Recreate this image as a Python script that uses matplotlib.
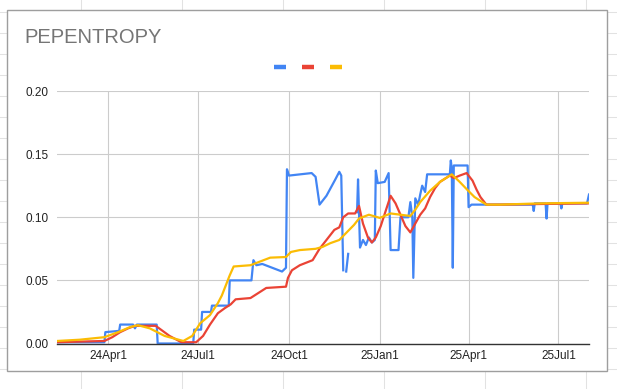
import numpy as np
import pandas as pd
import matplotlib
matplotlib.use("Agg")
import matplotlib.pyplot as plt
from matplotlib.lines import Line2D
from matplotlib.patches import Rectangle

plt.rcParams['font.family'] = ['Liberation Sans', 'DejaVu Sans']

title = "PEPENTROPY"
series_colors = ["#4285F4", "#EA4335", "#FBBC04"]
y_ticks = [0.00, 0.05, 0.10, 0.15, 0.20]
x_tick_dates = ["2024-04-01", "2024-07-01", "2024-10-01", "2025-01-01", "2025-04-01", "2025-07-01"]
x_tick_labels = ["24Apr1", "24Jul1", "24Oct1", "25Jan1", "25Apr1", "25Jul1"]

nan = np.nan
blue_dates = ["2024-02-09", "2024-03-28", "2024-03-29", "2024-04-12", "2024-04-13", "2024-04-26",
              "2024-04-28", "2024-04-30", "2024-05-20", "2024-05-21", "2024-06-26", "2024-06-27",
              "2024-07-04", "2024-07-05", "2024-07-14", "2024-07-15", "2024-08-01", "2024-08-02",
              "2024-08-24", "2024-08-26", "2024-08-29", "2024-09-04", "2024-09-14", "2024-09-24",
              "2024-09-28", "2024-09-29", "2024-10-01", "2024-10-24", "2024-10-28", "2024-11-01",
              "2024-11-08", "2024-11-17", "2024-11-21", "2024-11-23", "2024-11-25", "2024-11-26",
              "2024-11-28", "2024-11-30", "2024-12-01", "2024-12-09", "2024-12-10", "2024-12-12",
              "2024-12-15", "2024-12-18", "2024-12-21", "2024-12-24", "2024-12-27", "2024-12-28",
              "2024-12-30", "2025-01-06", "2025-01-10", "2025-01-12", "2025-01-20", "2025-01-22",
              "2025-01-30", "2025-02-01", "2025-02-03", "2025-02-04", "2025-02-06", "2025-02-09",
              "2025-02-11", "2025-02-13", "2025-02-16", "2025-02-18", "2025-03-13", "2025-03-14",
              "2025-03-15", "2025-03-16", "2025-03-17", "2025-03-31", "2025-04-01", "2025-04-04",
              "2025-06-05", "2025-06-06", "2025-06-07", "2025-06-18", "2025-06-19", "2025-06-20",
              "2025-07-03", "2025-07-04", "2025-07-05", "2025-07-30", "2025-08-01"]
blue_values = [0.001, 0.001, 0.009, 0.010, 0.015, 0.015,
               0.012, 0.015, 0.015, 0.000, 0.000, 0.011,
               0.011, 0.025, 0.025, 0.030, 0.030, 0.050,
               0.050, 0.066, 0.062, 0.063, 0.060, 0.057,
               0.060, 0.138, 0.133, 0.135, 0.132, 0.110,
               0.117, 0.130, 0.136, 0.133, 0.058, nan,
               0.057, 0.071, nan, 0.104, 0.130, 0.076,
               0.082, 0.078, 0.084, 0.080, 0.082, 0.137,
               0.127, 0.128, 0.135, 0.074, 0.074, 0.100,
               0.100, 0.112, 0.100, 0.052, 0.115, 0.110,
               0.118, 0.125, 0.120, 0.134, 0.134, 0.145,
               0.138, 0.060, 0.141, 0.141, 0.108, 0.110,
               0.110, 0.105, 0.111, 0.111, 0.099, 0.111,
               0.111, 0.107, 0.111, 0.111, 0.118]

red_dates = ["2024-02-09", "2024-03-03", "2024-03-28", "2024-04-05", "2024-04-13", "2024-04-21",
             "2024-04-28", "2024-05-08", "2024-05-19", "2024-06-02", "2024-06-14", "2024-06-29",
             "2024-07-06", "2024-07-13", "2024-07-21", "2024-07-28", "2024-08-03", "2024-08-08",
             "2024-08-23", "2024-08-31", "2024-09-08", "2024-09-28", "2024-09-30", "2024-10-04",
             "2024-10-12", "2024-10-25", "2024-11-01", "2024-11-06", "2024-11-16", "2024-11-21",
             "2024-11-25", "2024-11-30", "2024-12-07", "2024-12-11", "2024-12-15", "2024-12-20",
             "2024-12-24", "2024-12-28", "2025-01-02", "2025-01-07", "2025-01-12", "2025-01-17",
             "2025-01-22", "2025-01-27", "2025-02-01", "2025-02-06", "2025-02-11", "2025-02-16",
             "2025-02-21", "2025-02-26", "2025-03-03", "2025-03-13", "2025-03-17", "2025-03-23",
             "2025-03-30", "2025-04-05", "2025-04-09", "2025-04-13", "2025-04-19", "2025-05-03",
             "2025-06-13", "2025-08-01"]
red_values = [0.001, 0.0015, 0.002, 0.005, 0.009, 0.012,
              0.014, 0.014, 0.014, 0.006, 0.001, 0.001,
              0.006, 0.015, 0.024, 0.028, 0.031, 0.035,
              0.036, 0.040, 0.044, 0.045, 0.052, 0.058,
              0.062, 0.066, 0.075, 0.080, 0.090, 0.092,
              0.100, 0.103, 0.103, 0.109, 0.095, 0.084,
              0.080, 0.084, 0.093, 0.105, 0.117, 0.111,
              0.102, 0.093, 0.088, 0.095, 0.102, 0.107,
              0.116, 0.123, 0.128, 0.133, 0.131, 0.133,
              0.135, 0.129, 0.122, 0.116, 0.110, 0.110,
              0.1105, 0.111]

yellow_dates = ["2024-02-09", "2024-03-03", "2024-03-28", "2024-04-11", "2024-04-23", "2024-05-01",
                "2024-05-13", "2024-05-28", "2024-06-16", "2024-06-25", "2024-07-03", "2024-07-13",
                "2024-07-21", "2024-07-25", "2024-07-29", "2024-08-02", "2024-08-06", "2024-08-23",
                "2024-09-02", "2024-09-12", "2024-09-28", "2024-10-03", "2024-10-12", "2024-10-28",
                "2024-11-04", "2024-11-12", "2024-11-21", "2024-11-26", "2024-12-01", "2024-12-06",
                "2024-12-11", "2024-12-21", "2025-01-01", "2025-01-12", "2025-01-22", "2025-02-01",
                "2025-02-06", "2025-02-11", "2025-02-21", "2025-03-03", "2025-03-15", "2025-03-23",
                "2025-03-31", "2025-04-07", "2025-04-19", "2025-05-03", "2025-06-13", "2025-08-01"]
yellow_values = [0.002, 0.003, 0.005, 0.009, 0.013, 0.0145,
                 0.012, 0.006, 0.002, 0.006, 0.016, 0.0225,
                 0.032, 0.038, 0.046, 0.054, 0.061, 0.062,
                 0.065, 0.068, 0.0685, 0.0725, 0.074, 0.075,
                 0.0765, 0.0795, 0.082, 0.086, 0.090, 0.094,
                 0.099, 0.102, 0.0995, 0.103, 0.102, 0.101,
                 0.106, 0.112, 0.121, 0.128, 0.134, 0.128,
                 0.1215, 0.116, 0.110, 0.110, 0.111, 0.1115]

W, H = 617, 389
fig = plt.figure(figsize=(W / 100, H / 100), dpi=100)
fig.patch.set_facecolor("white")

# spreadsheet grid behind the chart
grid_c = "#e2e2e2"
for gx in [81, 182, 283, 384, 485, 586]:
    fig.add_artist(Line2D([gx / W, gx / W], [0, 1], color=grid_c, lw=0.75, zorder=0))
for k in range(19):
    gy = 11.7 + 21 * k
    fig.add_artist(Line2D([0, 1], [1 - gy / H, 1 - gy / H], color=grid_c, lw=0.75, zorder=0))

# chart box
bx0, bx1, by0, by1 = 7, 607, 10, 371
fig.add_artist(Rectangle((bx0 / W, 1 - by1 / H), (bx1 - bx0) / W, (by1 - by0) / H,
                         facecolor="white", edgecolor="#9e9e9e", lw=1.0, zorder=1))

px_l, px_r, px_top, px_bot = 57, 589, 91, 343.5
ax = fig.add_axes([px_l / W, 1 - px_bot / H, (px_r - px_l) / W, (px_bot - px_top) / H], zorder=2)
ax.set_facecolor("none")

bd = pd.to_datetime(blue_dates)
rd = pd.to_datetime(red_dates)
yd = pd.to_datetime(yellow_dates)
ax.plot(bd, blue_values, color=series_colors[0], lw=1.6, solid_joinstyle="round", zorder=3)
ax.plot(rd, red_values, color=series_colors[1], lw=1.6, solid_joinstyle="round", zorder=4)
ax.plot(yd, yellow_values, color=series_colors[2], lw=1.6, solid_joinstyle="round", zorder=5)

ax.set_xlim(min(bd.min(), rd.min(), yd.min()), max(bd.max(), rd.max(), yd.max()))
ax.set_ylim(0, 0.20)
ax.set_yticks(y_ticks)
ax.set_yticklabels([f"{v:.2f}" for v in y_ticks])
ax.set_xticks(pd.to_datetime(x_tick_dates))
ax.set_xticklabels(x_tick_labels)
ax.grid(True, color="#cccccc", lw=0.8)
ax.set_axisbelow(True)
for s in ["left", "right", "top"]:
    ax.spines[s].set_visible(False)
ax.spines["bottom"].set_color("#333333")
ax.spines["bottom"].set_linewidth(1.0)
ax.spines["bottom"].set_zorder(6)
ax.tick_params(axis="both", length=0, labelsize=8.5, labelcolor="#222222")
ax.tick_params(axis="y", pad=6)
ax.tick_params(axis="x", pad=5)

fig.text(24 / W, 1 - 37.5 / H, title, fontsize=14.5, color="#757575", ha="left", va="center")

# legend swatches
for c, lx in zip(series_colors, [274, 302, 330]):
    fig.add_artist(Line2D([lx / W, (lx + 12) / W], [1 - 66.5 / H, 1 - 66.5 / H],
                          color=c, lw=3.2, solid_capstyle="butt", zorder=3))

fig.savefig("out.png", dpi=100)
